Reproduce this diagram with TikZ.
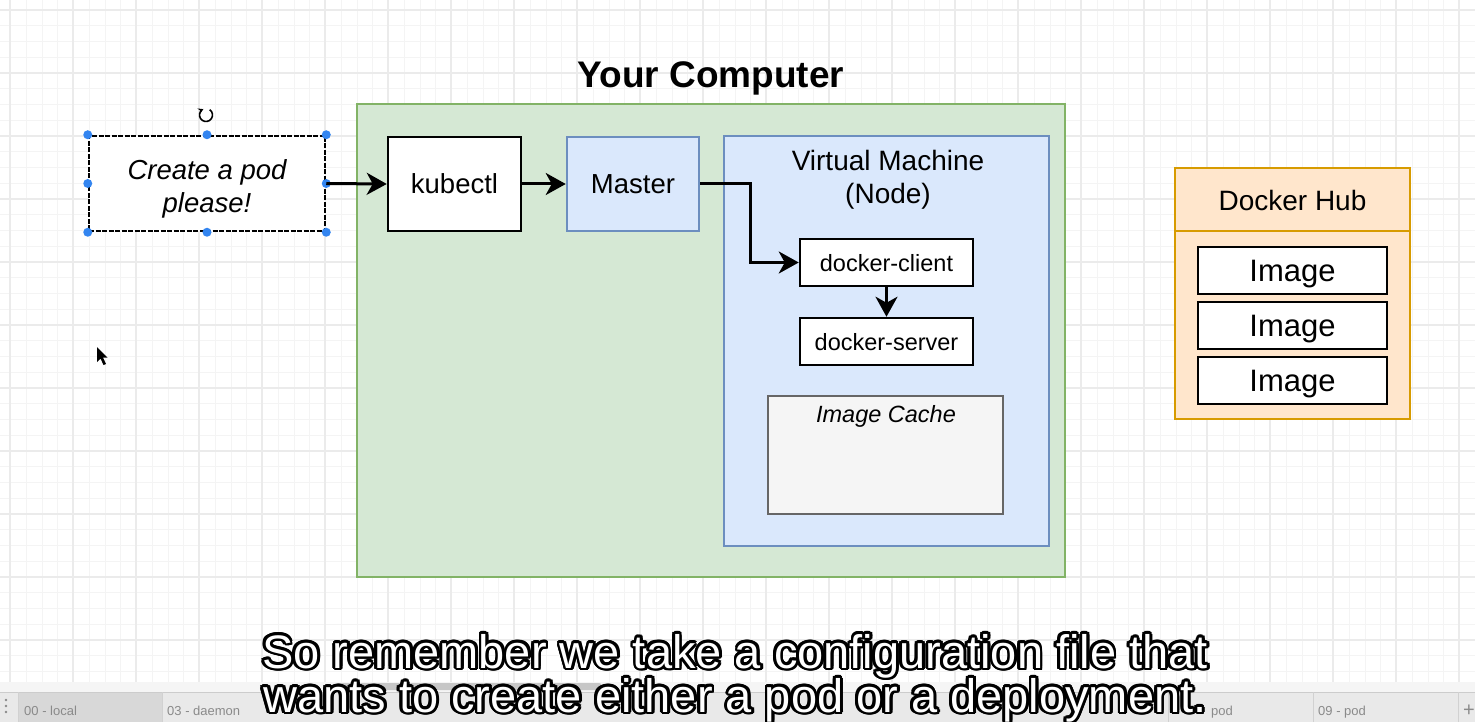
\documentclass[tikz,border=0pt]{standalone}
\usepackage{fontspec}
\setmainfont{Liberation Sans}
\usetikzlibrary{arrows.meta,calc}
\definecolor{gfill}{HTML}{D5E8D4}
\definecolor{gstroke}{HTML}{82B366}
\definecolor{bfill}{HTML}{DAE8FC}
\definecolor{bstroke}{HTML}{6C8EBF}
\definecolor{ofill}{HTML}{FFE6CC}
\definecolor{ostroke}{HTML}{D79B00}
\definecolor{cfill}{HTML}{F5F5F5}
\definecolor{cstroke}{HTML}{666666}
\definecolor{handle}{HTML}{3385F0}
\definecolor{gridminor}{HTML}{F4F4F4}
\definecolor{gridmajor}{HTML}{EBEBEB}
\definecolor{tabbar}{HTML}{E9E9E9}
\definecolor{tabdark}{HTML}{D8D8D8}
\definecolor{tabtext}{HTML}{8A8A8A}
\newcommand\fsz[1]{\fontsize{#1}{#1}\selectfont}
\newcommand\subone{So remember we take a configuration file that}
\newcommand\subtwo{wants to create either a pod or a deployment.}
\tikzset{
  box/.style={draw=black, fill=white, line width=2.5pt, inner sep=0pt, text depth=0pt},
  bluebox/.style={draw=bstroke, fill=bfill, line width=2.5pt, inner sep=0pt, text depth=0pt},
  arr/.style={line width=3pt, -{Stealth[length=20pt,width=22pt,inset=6pt]}},
  subtxt/.style={inner sep=0pt, anchor=base, font=\fsz{47}},
  tabtxt/.style={inner sep=0pt, anchor=base west, text=tabtext, font=\fsz{13}},
}
\begin{document}
\begin{tikzpicture}[x=1pt,y=-1pt]
\useasboundingbox (0,0) rectangle (1475,722);
\fill[white] (0,0) rectangle (1475,722);
% grid
\foreach \i in {0,...,93} {
  \draw[gridminor, line width=1pt] ({10.5+\i*15.75},0) -- ({10.5+\i*15.75},682);
}
\foreach \j in {0,...,43} {
  \draw[gridminor, line width=1pt] (0,{10+\j*15.75}) -- (1475,{10+\j*15.75});
}
\foreach \i in {0,...,23} {
  \draw[gridmajor, line width=1.2pt] ({10+\i*63},0) -- ({10+\i*63},682);
}
\foreach \j in {0,...,10} {
  \draw[gridmajor, line width=1.2pt] (0,{10+\j*63}) -- (1475,{10+\j*63});
}
% title
\node[inner sep=0pt, anchor=base, font=\bfseries\fsz{37}] (title) at (711,88) {Your Computer};
% green container
\node[draw=gstroke, fill=gfill, line width=2.5pt, minimum width=708, minimum height=473, inner sep=0pt] (computer) at (711,340.5) {};
% create pod
\node[draw=black, fill=white, line width=2.5pt, dash pattern=on 5pt off 1.5pt, minimum width=236, minimum height=95, inner sep=0pt] (pod) at (207,183.5) {};
\node[inner sep=0pt, anchor=base, font=\itshape\fsz{27.5}] (podl1) at (207,180) {Create a pod};
\node[inner sep=0pt, anchor=base, font=\itshape\fsz{27.5}] (podl2) at (207,213) {please!};
\foreach \a in {north west,north,north east,east,south east,south,south west,west} {
  \fill[handle] (pod.\a) circle (4.5);
}
\coordinate (rotc) at (206,115);
\draw[line width=1.6pt, -{Stealth[length=5pt,width=6pt]}] ($(rotc)+(-55:6.5)$) arc[start angle=-55, end angle=245, radius=6.5];
% kubectl, master
\node[box, minimum width=133, minimum height=94, font=\fsz{27.5}] (kubectl) at (454.5,184) {kubectl};
\node[bluebox, minimum width=132, minimum height=94, font=\fsz{27.5}] (master) at (633,184) {Master};
% VM
\node[draw=bstroke, fill=bfill, line width=2.5pt, minimum width=325, minimum height=410, inner sep=0pt] (vm) at (886.5,341) {};
\node[inner sep=0pt, anchor=base, font=\fsz{28}] (vmlabel1) at (888,171) {Virtual Machine};
\node[inner sep=0pt, anchor=base, font=\fsz{28}] (vmlabel2) at (888,204) {(Node)};
\node[box, minimum width=173, minimum height=47, font=\fsz{23.5}] (client) at (886.5,262.5) {docker-client};
\node[box, minimum width=173, minimum height=47, font=\fsz{23.5}] (server) at (886.5,341.5) {docker-server};
\node[draw=cstroke, fill=cfill, line width=2.5pt, minimum width=235, minimum height=118, inner sep=0pt] (cache) at (885.5,455) {};
\node[inner sep=0pt, anchor=base, font=\itshape\fsz{23.5}] (cachelabel) at (886,422) {Image Cache};
% Docker hub
\node[draw=ostroke, fill=ofill, line width=2.5pt, minimum width=235, minimum height=251, inner sep=0pt] (hub) at (1292.5,293.5) {};
\coordinate (hubl) at (1175,231);
\coordinate (hubr) at (1410,231);
\draw[ostroke, line width=2.5pt] (hubl) -- (hubr);
\node[inner sep=0pt, anchor=base, font=\fsz{28}] (hublabel) at (1292.5,211) {Docker Hub};
\node[box, minimum width=189, minimum height=47, font=\fsz{31}] (img1) at (1292.5,270.5) {Image};
\node[box, minimum width=189, minimum height=47, font=\fsz{31}] (img2) at (1292.5,325.5) {Image};
\node[box, minimum width=189, minimum height=47, font=\fsz{31}] (img3) at (1292.5,380.5) {Image};
% connectors
\draw[arr] (pod.east) -- (kubectl.west);
\draw[arr] (kubectl.east) -- (master.west);
\draw[arr] (master.east) -- ++(50,0) |- (client.west);
\draw[arr] (client.south) -- (server.north);
% mouse cursor
\fill[black] (97,347) -- (97,362) -- (100.5,358.5) -- (103.5,365) -- (106,364) -- (103,357.5) -- (107.5,357.5) -- cycle;
% tab bar
\fill[white!96!black] (0,682) rectangle (1475,692);
\fill[tabbar] (0,692) rectangle (1475,722);
\fill[tabdark] (18,692) rectangle (162,722);
\draw[white!80!black, line width=1pt] (0,692) -- (1475,692);
\foreach \xx in {18,162,1168,1313,1458} { \draw[white!82!black, line width=1pt] (\xx,692) -- (\xx,722); }
\fill[white!78!black, rounded corners=3pt] (336,683) rectangle (602,690);
\foreach \yy in {700,706,712} { \fill[tabtext] (6,\yy) circle (1.4); }
\node[tabtxt] (tab1) at (24,715) {00 - local};
\node[tabtxt] (tab2) at (167,715) {03 - daemon};
\node[tabtxt] (tab3) at (1211,715) {pod};
\node[tabtxt] (tab4) at (1318,715) {09 - pod};
\node[tabtxt, font=\fsz{20}] (tabplus) at (1463,716) {+};
% subtitle: outline copies, then white fill
\foreach \ang [count=\k] in {0,22.5,...,337.5} {
  \node[subtxt, text=black] (sub1o\k) at ($(735,668)+(\ang:2.8)$) {\subone};
  \node[subtxt, text=black] (sub2o\k) at ($(735,712)+(\ang:2.8)$) {\subtwo};
}
\node[subtxt, text=black] (sub1s) at (737,670) {\subone};
\node[subtxt, text=black] (sub2s) at (737,714) {\subtwo};
\node[subtxt, text=white] (sub1) at (735,668) {\subone};
\node[subtxt, text=white] (sub2) at (735,712) {\subtwo};
\end{tikzpicture}
\end{document}
